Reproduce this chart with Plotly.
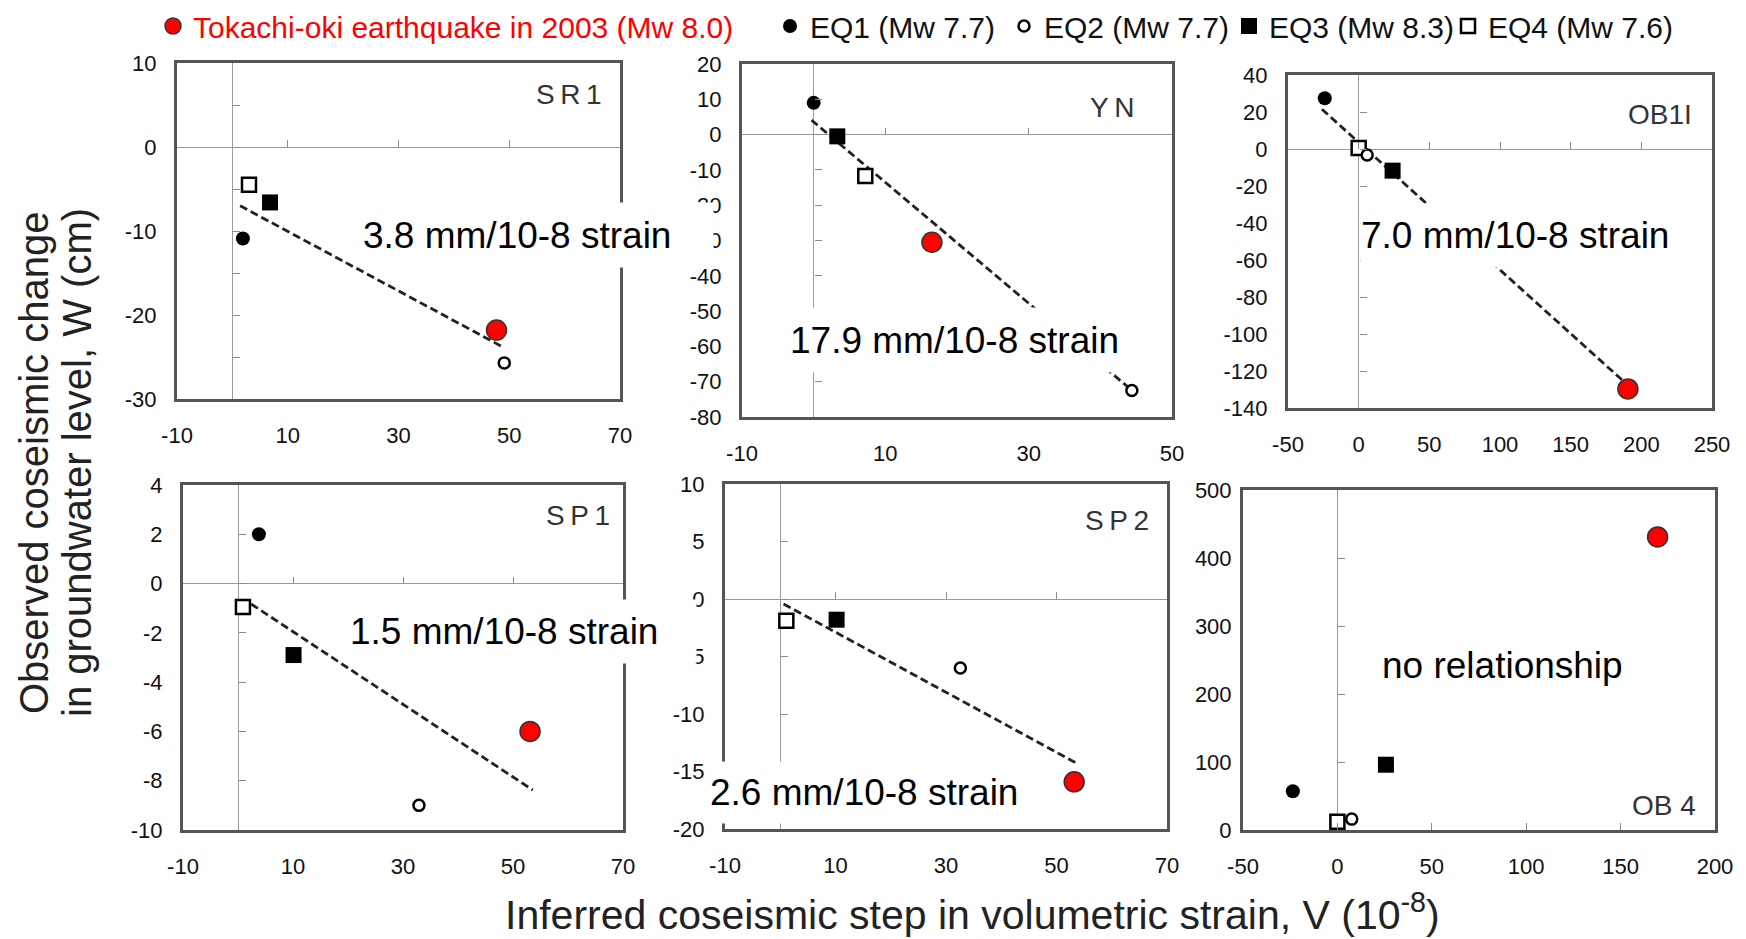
import plotly.graph_objects as go

W_PX, H_PX = 1746, 939
FONT = "Liberation Sans, Arial, sans-serif"

# ---------------- data ----------------
events = ["Tokachi-oki earthquake in 2003 (Mw 8.0)", "EQ1 (Mw 7.7)", "EQ2 (Mw 7.7)",
          "EQ3 (Mw 8.3)", "EQ4 (Mw 7.6)"]
stations = ["SR1", "YN", "OB1I", "SP1", "SP2", "OB4"]
station_labels = ["S\u2009R\u20091", "Y\u2009N", "OB1I", "S\u2009P\u20091", "S\u2009P\u20092", "OB 4"]

# inferred volumetric strain step V (1e-8), order = events
V_SR1 = [47.7, 1.9, 49.1, 6.8, 3.0]
V_YN = [16.5, 0.0, 44.4, 3.3, 7.2]
V_OB1I = [190.5, -24.0, 6.0, 24.0, 0.0]
V_SP1 = [53.1, 3.8, 32.9, 10.1, 0.9]
V_SP2 = [53.2, None, 32.6, 10.2, 1.1]
V_OB4 = [169.6, -23.6, 7.6, 25.7, 0.0]

# observed groundwater level change W (cm), order = events
W_SR1 = [-21.8, -10.9, -25.7, -6.6, -4.5]
W_YN = [-30.5, 9.0, -72.5, -0.5, -11.7]
W_OB1I = [-129.7, 27.4, -3.2, -11.7, 0.5]
W_SP1 = [-6.0, 2.0, -9.0, -2.9, -0.95]
W_SP2 = [-15.9, None, -6.0, -1.8, -1.9]
W_OB4 = [431.0, 57.0, 16.0, 96.0, 12.0]

# regression lines (end points)
FIT_X_SR1, FIT_Y_SR1 = [1.4, 49.1], [-7.0, -23.9]
FIT_X_YN, FIT_Y_YN = [-0.3, 43.8], [4.1, -71.4]
FIT_X_OB1I, FIT_Y_OB1I = [-26.0, 187.3], [21.5, -125.5]
FIT_X_SP1, FIT_Y_SP1 = [2.4, 53.6], [-0.83, -8.38]
FIT_X_SP2, FIT_Y_SP2 = [0.6, 53.6], [-0.43, -14.27]

# tick labels
X_TICKS_SR1 = [-10, 10, 30, 50, 70]
X_TICKS_YN = [-10, 10, 30, 50]
X_TICKS_OB1I = [-50, 0, 50, 100, 150, 200, 250]
X_TICKS_SP1 = [-10, 10, 30, 50, 70]
X_TICKS_SP2 = [-10, 10, 30, 50, 70]
X_TICKS_OB4 = [-50, 0, 50, 100, 150, 200]
Y_TICKS_SR1 = [-30, -20, -10, 0, 10]
Y_TICKS_YN = [-80, -70, -60, -50, -40, -30, -20, -10, 0, 10, 20]
Y_TICKS_OB1I = [-140, -120, -100, -80, -60, -40, -20, 0, 20, 40]
Y_TICKS_SP1 = [-10, -8, -6, -4, -2, 0, 2, 4]
Y_TICKS_SP2 = [-20, -15, -10, -5, 0, 5, 10]
Y_TICKS_OB4 = [0, 100, 200, 300, 400, 500]

slope_texts = ["3.8 mm/10-8 strain", "17.9 mm/10-8 strain", "7.0 mm/10-8 strain",
               "1.5 mm/10-8 strain", "2.6 mm/10-8 strain"]
note_text = "no relationship"

V_all = [V_SR1, V_YN, V_OB1I, V_SP1, V_SP2, V_OB4]
W_all = [W_SR1, W_YN, W_OB1I, W_SP1, W_SP2, W_OB4]
FIT_all = [(FIT_X_SR1, FIT_Y_SR1), (FIT_X_YN, FIT_Y_YN), (FIT_X_OB1I, FIT_Y_OB1I),
           (FIT_X_SP1, FIT_Y_SP1), (FIT_X_SP2, FIT_Y_SP2), None]
X_TICKS = [X_TICKS_SR1, X_TICKS_YN, X_TICKS_OB1I, X_TICKS_SP1, X_TICKS_SP2, X_TICKS_OB4]
Y_TICKS = [Y_TICKS_SR1, Y_TICKS_YN, Y_TICKS_OB1I, Y_TICKS_SP1, Y_TICKS_SP2, Y_TICKS_OB4]

# ---------------- layout config ----------------
boxes = [(177, 620, 63, 399), (742, 1172, 64, 417), (1288, 1712, 75, 408),
         (183, 623, 485, 830), (725, 1167, 484, 829), (1243, 1715, 490, 830)]
x_ranges = [(-10, 70), (-10, 50), (-50, 250), (-10, 70), (-10, 70), (-50, 200)]
x_dtick = [20, 20, 50, 20, 20, 50]
y_ranges = [(-30, 10), (-80, 20), (-140, 40), (-10, 4), (-20, 10), (0, 500)]
y_minor = [5, 10, 20, 2, 5, 100]
label_pos = [(604, 95), (1137, 107), (1694, 115), (612, 515), (1151, 520), (1698, 805)]
slope_boxes = [(362, 712, 203, 267), (789, 1130, 308, 372), (1360, 1710, 204, 267),
               (349, 695, 600, 663), (709, 1055, 762, 823)]
note_pos = (1502, 665)
legend_marker_x = [173, 790, 1024, 1249, 1468]

styles = [
    dict(symbol="circle", size=20, color="#ff0000", line=dict(color="#333333", width=1.5)),
    dict(symbol="circle", size=14, color="black", line=dict(color="black", width=0)),
    dict(symbol="circle", size=11, color="white", line=dict(color="black", width=2.5)),
    dict(symbol="square", size=16, color="black", line=dict(color="black", width=0)),
    dict(symbol="square", size=14, color="white", line=dict(color="black", width=2.5)),
]
legend_names = ["legend", "legend2", "legend3", "legend4", "legend5"]
draw_order = [4, 2, 3, 1, 0]


def px_x(p):
    return p / W_PX


def px_y(p):
    return 1 - p / H_PX


fig = go.Figure()
layout = dict(template="none", width=W_PX, height=H_PX, margin=dict(l=0, r=0, t=0, b=0, pad=0),
              paper_bgcolor="white", plot_bgcolor="white", font=dict(family=FONT, color="#111"),
              showlegend=True)

tickfont = dict(family=FONT, size=22, color="#111")
annotations = []

for k in range(6):
    n = "" if k == 0 else str(k + 1)
    xname = "x" + n
    yname = "y" + n
    l, r, t, b = boxes[k]
    xd = [px_x(l), px_x(r)]
    yd = [px_y(b), px_y(t)]
    xr, yr = x_ranges[k], y_ranges[k]
    layout["xaxis" + n] = dict(domain=xd, range=list(xr), anchor=yname, tickmode="array",
                               tickvals=X_TICKS[k], ticktext=[str(v) for v in X_TICKS[k]],
                               showline=True, linecolor="#555",
                               linewidth=3, mirror=True, ticks="", showgrid=False, zeroline=True,
                               zerolinecolor="#9a9a9a", zerolinewidth=1, tickfont=tickfont,
                               ticklabelstandoff=15, automargin=False)
    layout["yaxis" + n] = dict(domain=yd, range=list(yr), anchor=xname, tickmode="array",
                               tickvals=Y_TICKS[k], ticktext=[str(v) for v in Y_TICKS[k]],
                               showline=True, linecolor="#555",
                               linewidth=3, mirror=True, ticks="", showgrid=False, zeroline=True,
                               zerolinecolor="#9a9a9a", zerolinewidth=1, tickfont=tickfont,
                               ticklabelstandoff=13 if k != 5 else 4, automargin=False)
    # overlay axes that carry the small tick marks on the zero lines
    on = str(k + 7)
    ypos0 = yd[0] + (0 - yr[0]) / (yr[1] - yr[0]) * (yd[1] - yd[0])
    xpos0 = xd[0] + (0 - xr[0]) / (xr[1] - xr[0]) * (xd[1] - xd[0])
    layout["xaxis" + on] = dict(overlaying=xname, anchor="free", position=ypos0,
                                range=list(xr), side="bottom", tickmode="linear", tick0=xr[0],
                                dtick=x_dtick[k], ticks="inside", ticklen=7, tickcolor="#8a8a8a",
                                tickwidth=1, showticklabels=False, showline=False,
                                showgrid=False, zeroline=False, automargin=False)
    layout["yaxis" + on] = dict(overlaying=yname, anchor="free", position=xpos0,
                                range=list(yr), side="left", tickmode="linear", tick0=yr[0],
                                dtick=y_minor[k], ticks="inside", ticklen=7, tickcolor="#8a8a8a",
                                tickwidth=1, showticklabels=False, showline=False,
                                showgrid=False, zeroline=False, automargin=False)
    fig.add_trace(go.Scatter(x=[None], y=[None], xaxis="x" + on, yaxis="y" + on,
                             showlegend=False, hoverinfo="skip", mode="markers"))

    # regression line
    if FIT_all[k] is not None:
        fx, fy = FIT_all[k]
        fig.add_trace(go.Scatter(x=fx, y=fy, mode="lines", xaxis=xname, yaxis=yname,
                                 showlegend=False,
                                 line=dict(color="#222", width=2.8, dash="8px,4px")))
    # points
    for e in draw_order:
        vx, wy = V_all[k][e], W_all[k][e]
        if vx is None or wy is None:
            continue
        fig.add_trace(go.Scatter(x=[vx], y=[wy], mode="markers", marker=styles[e],
                                 name=events[e], legend=legend_names[e],
                                 showlegend=(k == 0), xaxis=xname, yaxis=yname,
                                 cliponaxis=False))
    # station label
    lx, ly = label_pos[k]
    annotations.append(dict(text=station_labels[k], x=px_x(lx), y=px_y(ly), xref="paper",
                            yref="paper", xanchor="right", yanchor="middle", showarrow=False,
                            font=dict(family=FONT, size=28, color="#333")))

# slope annotations with white boxes
for i, txt in enumerate(slope_texts):
    l, r, t, b = slope_boxes[i]
    annotations.append(dict(text=txt, x=px_x(l), y=px_y((t + b) / 2), xref="paper", yref="paper",
                            xanchor="left", yanchor="middle", showarrow=False, width=r - l,
                            height=b - t, align="left", valign="middle", bgcolor="white",
                            borderpad=0, font=dict(family=FONT, size=37, color="black")))
annotations.append(dict(text=note_text, x=px_x(note_pos[0]), y=px_y(note_pos[1]), xref="paper",
                        yref="paper", xanchor="center", yanchor="middle", showarrow=False,
                        font=dict(family=FONT, size=37, color="black")))

# axis titles
annotations.append(dict(text="Observed coseismic change", x=px_x(34), y=px_y(463),
                        xref="paper", yref="paper", textangle=-90, showarrow=False,
                        xanchor="center", yanchor="middle",
                        font=dict(family=FONT, size=40, color="#222")))
annotations.append(dict(text="in groundwater level, W (cm)", x=px_x(77), y=px_y(463),
                        xref="paper", yref="paper", textangle=-90, showarrow=False,
                        xanchor="center", yanchor="middle",
                        font=dict(family=FONT, size=40, color="#222")))
annotations.append(dict(text="Inferred coseismic step in volumetric strain, V (10<sup>-8</sup>)",
                        x=px_x(972), y=0, xref="paper", yref="paper", showarrow=False,
                        xanchor="center", yanchor="bottom", borderpad=0,
                        font=dict(family=FONT, size=41, color="#222")))
layout["annotations"] = annotations

# one legend per event so each entry sits where it does in the original
for i, ln in enumerate(legend_names):
    layout[ln] = dict(x=px_x(legend_marker_x[i] - 20), y=1.0, xanchor="left",
                      yanchor="top", orientation="h", bgcolor="rgba(0,0,0,0)",
                      itemwidth=30,
                      font=dict(family=FONT, size=30, color="#ff0000" if i == 0 else "#111"))

fig.update_layout(**layout)
fig.write_html("out.html")
